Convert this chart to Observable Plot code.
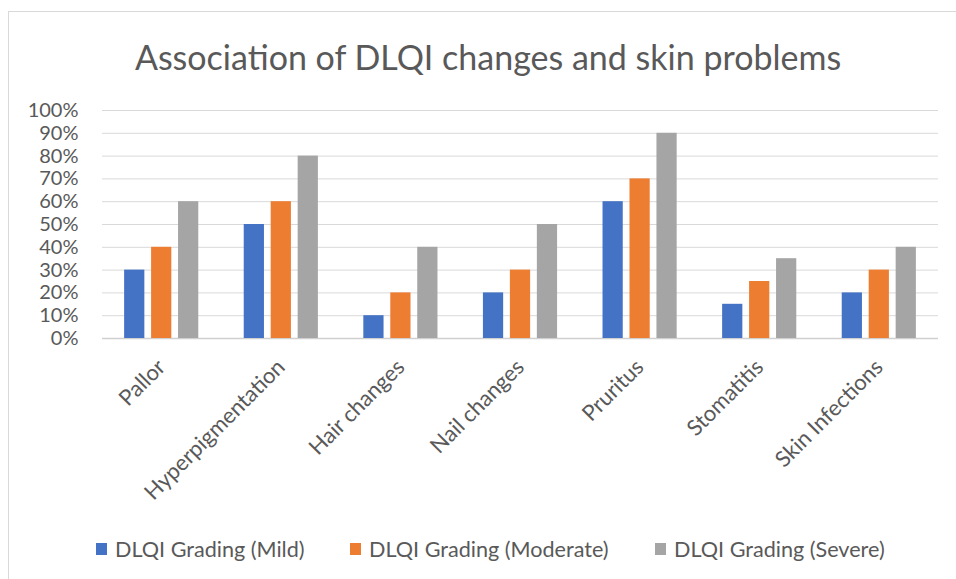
<!DOCTYPE html>
<html>
<head>
<meta charset="utf-8">
<script src="https://cdn.jsdelivr.net/npm/d3@7"></script>
<script src="https://cdn.jsdelivr.net/npm/@observablehq/plot@0.6"></script>
<style>
  html, body { margin: 0; padding: 0; background: #fff; width: 956px; height: 579px; overflow: hidden; }
  body { position: relative; font-family: Lato, "Open Sans", sans-serif; color: #595959; }
  #frame { position: absolute; left: 8px; top: 11px; width: 980px; height: 600px; border: 1px solid #d9d9d9; box-sizing: border-box; }
  #title { position: absolute; left: 0; width: 976px; top: 36px; text-align: center; font-size: 34px; color: #595959; white-space: nowrap; }
  #grid, #chart { position: absolute; left: 0; top: 90px; }
  #legend { position: absolute; top: 537px; left: 0; height: 24px; font-size: 21.6px; color: #595959; }
  .item { position: absolute; top: 0; white-space: nowrap; }
  .sw { position: absolute; top: 6px; width: 11px; height: 12px; }
  .lab { position: absolute; left: 19px; top: 0; line-height: 24px; }
</style>
</head>
<body>
<div id="frame"></div>
<div id="title">Association of DLQI changes and skin problems</div>
<div id="grid"></div>
<div id="chart"></div>
<div id="legend"></div>
<script>
const categories = ["Pallor", "Hyperpigmentation", "Hair changes", "Nail changes", "Pruritus", "Stomatitis", "Skin Infections"];
const seriesNames = ["DLQI Grading (Mild)", "DLQI Grading (Moderate)", "DLQI Grading (Severe)"];
const seriesColors = ["#4472C4", "#ED7D31", "#A5A5A5"];
const mild = [30, 50, 10, 20, 60, 15, 20];
const moderate = [40, 60, 20, 30, 70, 25, 30];
const severe = [60, 80, 40, 50, 90, 35, 40];
const yTicks = [0, 10, 20, 30, 40, 50, 60, 70, 80, 90, 100];

const seriesValues = [mild, moderate, severe];
const data = [];
categories.forEach((c, i) => {
  seriesNames.forEach((s, j) => data.push({category: c, series: s, value: seriesValues[j][i]}));
});

const common = {
  width: 956,
  height: 440,
  marginLeft: 102,
  marginRight: 18,
  marginTop: 20,
  marginBottom: 192,
  style: {fontFamily: "Lato, 'Open Sans', sans-serif", fontSize: "20px", color: "#595959", background: "transparent"},
  y: {domain: [0, 100], label: null}
};

// background gridlines spanning the whole plot width
const grid = Plot.plot({
  ...common,
  x: {axis: null},
  marks: [
    Plot.ruleY(yTicks, {stroke: "#d9d9d9", strokeWidth: 1}),
    Plot.ruleY([0], {stroke: "#d0d0d0", strokeWidth: 1.5}),
    Plot.axisY({ticks: yTicks, tickFormat: d => d + "%", tickSize: 0, tickPadding: 24, label: null, fontSize: 20})
  ]
});
document.getElementById("grid").appendChild(grid);

const chart = Plot.plot({
  ...common,
  fx: {domain: categories, paddingInner: 0.38, paddingOuter: 0.185, label: null, round: false},
  x: {domain: seriesNames, paddingInner: 0.25, paddingOuter: 0, axis: null, round: false},
  color: {domain: seriesNames, range: seriesColors},
  marks: [
    Plot.axisY({ticks: [], label: null}),
    Plot.axisFx({anchor: "bottom", tickRotate: -45, tickSize: 0, tickPadding: 25, label: null, fontSize: 22}),
    Plot.barY(data, {fx: "category", x: "series", y: "value", fill: "series"})
  ]
});
document.getElementById("chart").appendChild(chart);

const legend = document.getElementById("legend");
const lefts = [96, 350, 655];
seriesNames.forEach((s, i) => {
  const it = document.createElement("div");
  it.className = "item";
  it.style.left = lefts[i] + "px";
  it.innerHTML = `<div class="sw" style="background:${seriesColors[i]}"></div><div class="lab">${s}</div>`;
  legend.appendChild(it);
});
</script>
</body>
</html>
